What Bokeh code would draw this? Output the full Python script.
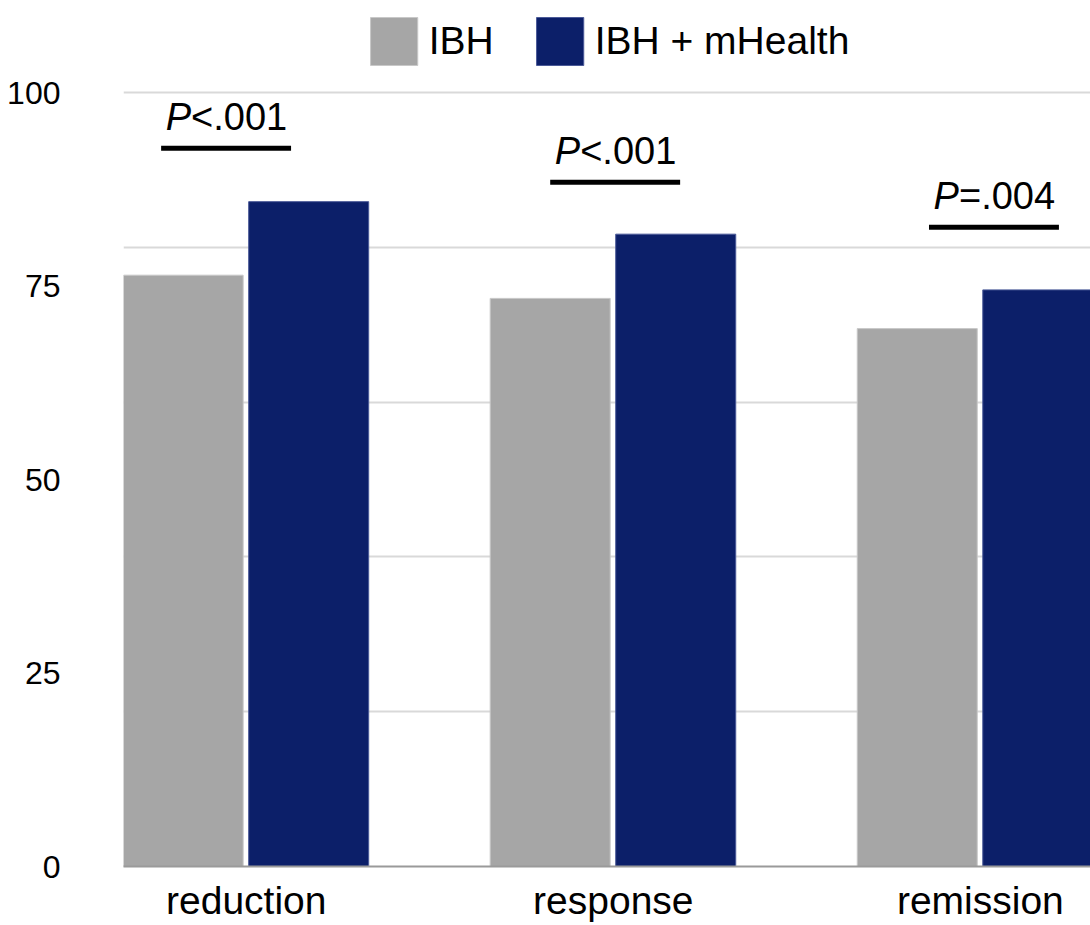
from bokeh.plotting import figure
from bokeh.models import (ColumnDataSource, Range1d, FixedTicker, Legend, LegendItem)
from bokeh.transform import dodge
from bokeh.core.properties import value
from bokeh.embed import file_html
from bokeh.resources import INLINE

# ---- data ----
categories = ["reduction", "response", "remission"]
ibh = [76.4, 73.4, 69.5]
ibh_mhealth = [85.9, 81.7, 74.5]
series_names = ["IBH", "IBH + mHealth"]
y_ticks = [0, 25, 50, 75, 100]
grid_ticks = [20, 40, 60, 80, 100]
p_prefix = ["P", "P", "P"]
p_text = ["<.001", "<.001", "=.004"]
p_level = [92.8, 88.4, 82.6]          # height of the significance underline
p_shift = [-0.055, 0.005, 0.037]      # horizontal shift of the annotation from group centre

FONT = "Liberation Sans"
GRAY = "#a6a6a6"
NAVY = "#0c1f69"

idx = list(range(len(categories)))
src = ColumnDataSource(dict(x=idx, ibh=ibh, mh=ibh_mhealth))

p = figure(width=1090, height=925,
           x_range=Range1d(-0.3345, 2.300), y_range=Range1d(0, 111.89),
           output_backend="svg", toolbar_location=None,
           min_border_left=123, min_border_right=0, min_border_top=0,
           min_border_bottom=59)
p.outline_line_color = None
p.background_fill_color = "white"

bw = 0.327
r1 = p.vbar(x=dodge("x", -0.172, range=p.x_range), top="ibh", bottom=0, width=bw,
            source=src, fill_color=GRAY, line_color="#c8c8c8", line_width=1)
r2 = p.vbar(x=dodge("x", 0.170, range=p.x_range), top="mh", bottom=0, width=bw,
            source=src, fill_color=NAVY, line_color="#4b5a98", line_width=1)

# significance annotations
half = 0.177
ann = ColumnDataSource(dict(
    x0=[i + s - half for i, s in zip(idx, p_shift)],
    x1=[i + s + half for i, s in zip(idx, p_shift)],
    xc=[i + s for i, s in zip(idx, p_shift)],
    y=p_level, pre=p_prefix, txt=p_text))
p.segment(x0="x0", y0="y", x1="x1", y1="y", source=ann, line_color="black", line_width=5)
p.text(x="xc", y="y", text="pre", source=ann, text_font=value(FONT), text_font_size="38px",
       text_font_style="italic", text_align="right", text_baseline="alphabetic",
       x_offset=-35, y_offset=-31, text_color="black")
p.text(x="xc", y="y", text="txt", source=ann, text_font=value(FONT), text_font_size="38px",
       text_align="left", text_baseline="alphabetic",
       x_offset=-35, y_offset=-31, text_color="black")

# axes
p.xaxis.ticker = FixedTicker(ticks=idx)
p.xaxis.major_label_overrides = {i: c for i, c in zip(idx, categories)}
p.xaxis.major_label_text_font = FONT
p.xaxis.major_label_text_font_size = "39px"
p.xaxis.major_label_text_color = "black"
p.xaxis.major_label_standoff = 6
p.xaxis.major_tick_line_color = None
p.xaxis.minor_tick_line_color = None
p.xaxis.axis_line_color = "#9a9a9a"
p.xaxis.axis_line_width = 2

p.yaxis.ticker = FixedTicker(ticks=y_ticks)
p.yaxis.major_label_text_font = FONT
p.yaxis.major_label_text_font_size = "32px"
p.yaxis.major_label_text_color = "black"
p.yaxis.major_label_standoff = 57
p.yaxis.major_tick_line_color = None
p.yaxis.minor_tick_line_color = None
p.yaxis.axis_line_color = None

p.xgrid.visible = False
p.ygrid.ticker = FixedTicker(ticks=grid_ticks)
p.ygrid.grid_line_color = "#d9d9d9"
p.ygrid.grid_line_width = 2

legend = Legend(items=[LegendItem(label=series_names[0], renderers=[r1]),
                       LegendItem(label=series_names[1], renderers=[r2])],
                location="top_center", orientation="horizontal",
                glyph_width=59, glyph_height=60, label_standoff=6, spacing=36,
                padding=0, margin=11, border_line_color=None,
                background_fill_alpha=0,
                label_text_font=FONT, label_text_font_size="39px",
                label_text_color="black")
p.add_layout(legend)

open("out.html", "w").write(file_html(p, INLINE))
